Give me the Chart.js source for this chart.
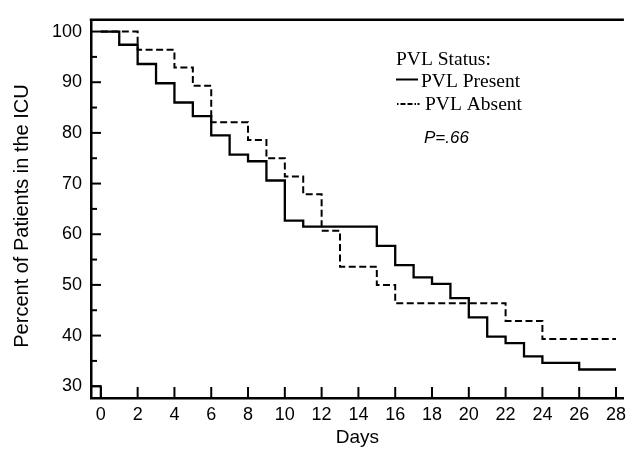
<!DOCTYPE html>
<html>
<head>
<meta charset="utf-8">
<script src="https://cdn.jsdelivr.net/npm/chart.js@4"></script>
<style>
  html, body { margin: 0; padding: 0; background: #fff; }
  canvas { display: block; }
</style>
</head>
<body>
<canvas id="km" width="632" height="449"></canvas>
<script>
// Kaplan-Meier curves (day of drop, percent after drop)
const presentDays = [0, 1, 2, 3, 4, 5, 6, 7, 8, 9, 10, 11, 15, 16, 17, 18, 19, 20, 21, 22, 23, 24, 26, 28];
const presentPct = [100, 97.4, 93.6, 89.8, 86.0, 83.3, 79.5, 75.7, 74.4, 70.6, 62.7, 61.5, 57.7, 53.9, 51.5, 50.2, 47.4, 43.6, 39.8, 38.5, 35.9, 34.6, 33.3, 33.3];

const absentDays = [0, 2, 4, 5, 6, 8, 9, 10, 11, 12, 13, 15, 16, 22, 24, 28];
const absentPct = [100, 96.4, 92.9, 89.3, 82.1, 78.6, 75, 71.4, 67.9, 60.7, 53.6, 50, 46.4, 42.9, 39.3, 39.3];

// little stub near the origin at 30%
const stubDays = [-0.6, 0, 0];
const stubPct = [30, 30, 27];

const xTicks = [0, 2, 4, 6, 8, 10, 12, 14, 16, 18, 20, 22, 24, 26, 28];
const yTicks = [30, 40, 50, 60, 70, 80, 90, 100];
const yMinorTicks = [35, 45, 55, 65, 75, 85, 95];

const X_MIN = -0.535, X_MAX = 28.43;
const Y_MIN = 27.68, Y_MAX = 102.32;

const SANS = "'Liberation Sans', Arial, sans-serif";
const toPoints = (xs, ys) => xs.map((x, i) => ({ x: x, y: ys[i] }));

// inward ticks, top frame line, y title and the legend block
const decorations = {
  id: "decorations",
  afterDraw(chart) {
    const ctx = chart.ctx;
    const { left, right, top, bottom } = chart.chartArea;
    const xs = chart.scales.x;
    const ys = chart.scales.y;

    ctx.save();
    ctx.strokeStyle = "#000";
    ctx.lineCap = "butt";

    ctx.lineWidth = 2.5;
    ctx.beginPath();
    ctx.moveTo(left - 1.25, top);
    ctx.lineTo(right, top);
    ctx.stroke();

    ctx.lineWidth = 2;
    xTicks.forEach((v) => {
      const px = xs.getPixelForValue(v);
      ctx.beginPath();
      ctx.moveTo(px, bottom);
      ctx.lineTo(px, bottom - 11);
      ctx.stroke();
    });
    yTicks.forEach((v) => {
      const py = ys.getPixelForValue(v);
      ctx.beginPath();
      ctx.moveTo(left, py);
      ctx.lineTo(left + 10, py);
      ctx.stroke();
    });
    yMinorTicks.forEach((v) => {
      const py = ys.getPixelForValue(v);
      ctx.beginPath();
      ctx.moveTo(left, py);
      ctx.lineTo(left + 6, py);
      ctx.stroke();
    });

    // y axis title
    ctx.fillStyle = "#000";
    ctx.font = "20px " + SANS;
    ctx.textAlign = "center";
    ctx.textBaseline = "alphabetic";
    ctx.translate(27.5, 216);
    ctx.rotate(-Math.PI / 2);
    ctx.fillText("Percent of Patients in the ICU", 0, 0);
    ctx.setTransform(1, 0, 0, 1, 0, 0);

    // legend
    ctx.textAlign = "left";
    ctx.font = "19.5px 'Liberation Serif', 'Times New Roman', serif";
    ctx.fillText("PVL Status:", 396, 65);
    ctx.fillText("PVL Present", 421, 87);
    ctx.fillText("PVL Absent", 425, 110);

    ctx.lineWidth = 2;
    ctx.beginPath();
    ctx.moveTo(396, 79.5);
    ctx.lineTo(418, 79.5);
    ctx.stroke();

    ctx.setLineDash([1.5, 2, 5, 2, 5, 2, 1.5]);
    ctx.beginPath();
    ctx.moveTo(397, 104);
    ctx.lineTo(422, 104);
    ctx.stroke();
    ctx.setLineDash([]);

    ctx.font = "italic 17px " + SANS;
    ctx.fillText("P=.66", 424, 142.5);
    ctx.restore();
  },
};

new Chart(document.getElementById("km"), {
  type: "line",
  data: {
    datasets: [
      {
        label: "PVL Present",
        data: toPoints(presentDays, presentPct),
        borderColor: "#000",
        borderWidth: 2.3,
        stepped: true,
        pointRadius: 0,
        fill: false,
      },
      {
        label: "PVL Absent",
        data: toPoints(absentDays, absentPct),
        borderColor: "#000",
        borderWidth: 2,
        borderDash: [7, 3.5],
        stepped: true,
        pointRadius: 0,
        fill: false,
      },
      {
        label: "stub",
        data: toPoints(stubDays, stubPct),
        borderColor: "#000",
        borderWidth: 2,
        pointRadius: 0,
        fill: false,
      },
    ],
  },
  options: {
    responsive: false,
    animation: false,
    devicePixelRatio: 1,
    layout: { padding: { top: 12, left: 0, right: 0, bottom: 0 } },
    plugins: {
      legend: { display: false },
      tooltip: { enabled: false },
    },
    scales: {
      x: {
        type: "linear",
        min: X_MIN,
        max: X_MAX,
        afterBuildTicks: (s) => { s.ticks = xTicks.map((v) => ({ value: v })); },
        afterFit: (s) => { s.height = 51; },
        grid: { display: false, drawTicks: false },
        border: { display: true, color: "#000", width: 2.5 },
        ticks: {
          color: "#000",
          padding: 6,
          maxRotation: 0,
          autoSkip: false,
          font: { family: SANS, size: 18 },
        },
        title: {
          display: true,
          text: "Days",
          color: "#000",
          padding: { top: 0, bottom: 0 },
          font: { family: SANS, size: 19 },
        },
      },
      y: {
        type: "linear",
        min: Y_MIN,
        max: Y_MAX,
        afterBuildTicks: (s) => { s.ticks = yTicks.map((v) => ({ value: v })); },
        afterFit: (s) => { s.width = 91; },
        grid: { display: false, drawTicks: false },
        border: { display: true, color: "#000", width: 2.5 },
        ticks: {
          color: "#000",
          padding: 9,
          autoSkip: false,
          font: { family: SANS, size: 18 },
        },
      },
    },
  },
  plugins: [decorations],
});
</script>
</body>
</html>
